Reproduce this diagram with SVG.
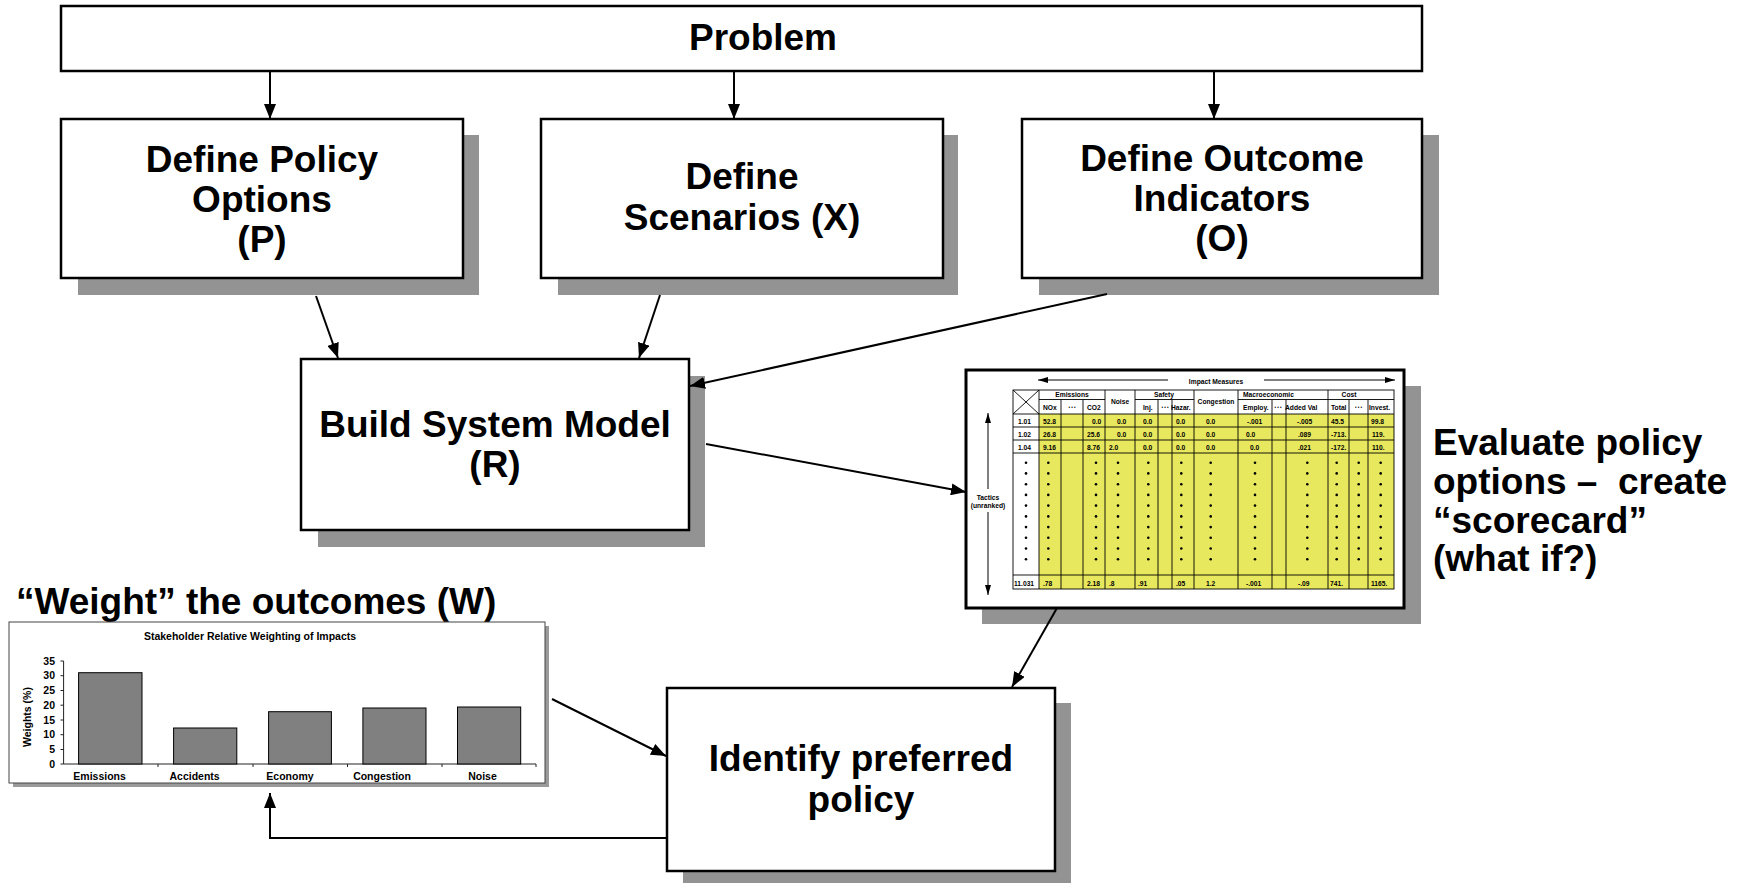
<svg xmlns="http://www.w3.org/2000/svg" xmlns:xlink="http://www.w3.org/1999/xlink" width="1745" height="883" viewBox="0 0 1745 883">
  <style>
    .lbl{font-family:"Liberation Sans",Arial,Helvetica,sans-serif;font-weight:bold;font-size:37px;text-anchor:middle;fill:#000}
    .note{font-family:"Liberation Sans",Arial,Helvetica,sans-serif;font-weight:bold;font-size:37px;fill:#000}
    .box{fill:#fff;stroke:#000;stroke-width:2.5}
    .shadow{fill:#939393}
    .conn{stroke:#000;stroke-width:2;fill:none}
    .thin{stroke:#000;stroke-width:1;fill:none}
    .grid{stroke:#000;stroke-width:0.9;fill:none}
    .tt{font-family:"Liberation Sans",Arial,Helvetica,sans-serif;font-weight:bold;font-size:6.7px;fill:#000}
    .tm{text-anchor:middle}
    .te{text-anchor:end}
    .dots3{font-family:"Liberation Sans",Arial,sans-serif;font-size:4.5px;text-anchor:middle;fill:#000}
    .ct{font-family:"Liberation Sans",Arial,Helvetica,sans-serif;font-weight:bold;font-size:10.5px;fill:#000}
    .bar{fill:#808080;stroke:#000;stroke-width:1}
  </style>
  <defs>
    <marker id="arrow" markerUnits="userSpaceOnUse" markerWidth="15" markerHeight="12" refX="15" refY="6" orient="auto">
      <path d="M0,0 L15,6 L0,12 z" fill="#000"/>
    </marker>
    <marker id="arrowSm" markerUnits="userSpaceOnUse" markerWidth="10" markerHeight="6" refX="10" refY="3" orient="auto">
      <path d="M0,0 L10,3 L0,6 z" fill="#000"/>
    </marker>
    <!-- a column of ten bullets used in the open rows of the scorecard -->
    <g id="dotcol" fill="#000">
      <circle cx="0" cy="462.7" r="1.3"/>
      <circle cx="0" cy="473.4" r="1.3"/>
      <circle cx="0" cy="484.2" r="1.3"/>
      <circle cx="0" cy="494.9" r="1.3"/>
      <circle cx="0" cy="505.6" r="1.3"/>
      <circle cx="0" cy="516.4" r="1.3"/>
      <circle cx="0" cy="527.1" r="1.3"/>
      <circle cx="0" cy="537.8" r="1.3"/>
      <circle cx="0" cy="548.5" r="1.3"/>
      <circle cx="0" cy="559.3" r="1.3"/>
    </g>
  </defs>

  <rect width="1745" height="883" fill="#fff"/>

  <!-- Problem -->
  <g id="problem">
    <rect class="box" x="61" y="6" width="1361" height="65"/>
    <text class="lbl" x="763" y="50">Problem</text>
  </g>

  <!-- Define Policy Options -->
  <g id="policy">
    <rect class="shadow" x="78" y="135" width="401" height="160"/>
    <rect class="box" x="61" y="119" width="402" height="159"/>
    <text class="lbl" x="262" y="172">Define Policy</text>
    <text class="lbl" x="262" y="212">Options</text>
    <text class="lbl" x="262" y="252">(P)</text>
  </g>

  <!-- Define Scenarios -->
  <g id="scenarios">
    <rect class="shadow" x="558" y="135" width="400" height="160"/>
    <rect class="box" x="541" y="119" width="402" height="159"/>
    <text class="lbl" x="742" y="189">Define</text>
    <text class="lbl" x="742" y="230">Scenarios (X)</text>
  </g>

  <!-- Define Outcome Indicators -->
  <g id="outcome">
    <rect class="shadow" x="1039" y="135" width="400" height="160"/>
    <rect class="box" x="1022" y="119" width="400" height="159"/>
    <text class="lbl" x="1222" y="171">Define Outcome</text>
    <text class="lbl" x="1222" y="211">Indicators</text>
    <text class="lbl" x="1222" y="251">(O)</text>
  </g>

  <!-- Build System Model -->
  <g id="model">
    <rect class="shadow" x="318" y="376" width="387" height="171"/>
    <rect class="box" x="301" y="359" width="388" height="171"/>
    <text class="lbl" x="495" y="437">Build System Model</text>
    <text class="lbl" x="495" y="477">(R)</text>
  </g>

  <!-- Scorecard table -->
  <g id="scorecard">
    <rect class="shadow" x="982" y="386" width="439" height="238"/>
    <rect x="966" y="370" width="438" height="238" fill="#fff" stroke="#000" stroke-width="3"/>

    <!-- impact measures span -->
    <line class="thin" x1="1168" y1="380" x2="1038" y2="380" marker-end="url(#arrowSm)"/>
    <line class="thin" x1="1264" y1="380" x2="1395" y2="380" marker-end="url(#arrowSm)"/>
    <text class="tt tm" x="1216" y="383.5" font-size="9">Impact Measures</text>

    <!-- tactics span -->
    <line class="thin" x1="988" y1="489" x2="988" y2="413" marker-end="url(#arrowSm)"/>
    <line class="thin" x1="988" y1="512" x2="988" y2="595" marker-end="url(#arrowSm)"/>
    <text class="tt tm" x="988" y="500" font-size="8.5">Tactics</text>
    <text class="tt tm" x="988" y="507.5" font-size="5.5">(unranked)</text>

    <!-- cell fill -->
    <rect x="1039" y="414" width="355" height="175" fill="#E8E85E"/>

    <!-- grid -->
    <rect class="grid" x="1013" y="390" width="381" height="199"/>
    <path class="grid" d="M1013,414H1394 M1013,427H1394 M1013,440H1394 M1013,453H1394 M1013,575H1394
      M1039,399.5H1105 M1135,399.5H1194 M1238,399.5H1328 M1328,399.5H1394
      M1039,390V589 M1105,390V589 M1135,390V589 M1194,390V589 M1238,390V589 M1328,390V589
      M1061,399.5V589 M1083,399.5V589 M1158,399.5V589 M1172,399.5V589 M1272,399.5V589 M1286,399.5V589 M1349,399.5V589 M1368,399.5V589
      M1013,390L1039,414 M1039,390L1013,414"/>

    <!-- header -->
    <text class="tt tm" x="1072" y="396.5">Emissions</text>
    <text class="tt" x="1043" y="410">NOx</text>
    <text class="dots3" x="1072" y="409">• • •</text>
    <text class="tt" x="1087" y="410">CO2</text>
    <text class="tt tm" x="1120" y="404">Noise</text>
    <text class="tt tm" x="1164" y="396.5">Safety</text>
    <text class="tt" x="1143" y="410">Inj.</text>
    <text class="dots3" x="1165" y="409">• • •</text>
    <text class="tt" x="1171" y="410">Hazar.</text>
    <text class="tt tm" x="1216" y="404">Congestion</text>
    <text class="tt" x="1243" y="396.5">Macroeconomic</text>
    <text class="tt" x="1243" y="410">Employ.</text>
    <text class="dots3" x="1278" y="409">• • •</text>
    <text class="tt" x="1285" y="410">Added Val</text>
    <text class="tt tm" x="1349" y="396.5">Cost</text>
    <text class="tt" x="1331" y="410">Total</text>
    <text class="dots3" x="1358.5" y="409">• • •</text>
    <text class="tt" x="1369" y="410">Invest.</text>

    <!-- row 1.01 -->
    <text class="tt" x="1018" y="423.5">1.01</text>
    <text class="tt" x="1043" y="423.5">52.8</text>
    <text class="tt" x="1092" y="423.5">0.0</text>
    <text class="tt" x="1117" y="423.5">0.0</text>
    <text class="tt" x="1143" y="423.5">0.0</text>
    <text class="tt" x="1176" y="423.5">0.0</text>
    <text class="tt" x="1206" y="423.5">0.0</text>
    <text class="tt" x="1247" y="423.5">-.001</text>
    <text class="tt" x="1297" y="423.5">-.005</text>
    <text class="tt" x="1331" y="423.5">45.5</text>
    <text class="tt" x="1371" y="423.5">99.8</text>

    <!-- row 1.02 -->
    <text class="tt" x="1018" y="436.5">1.02</text>
    <text class="tt" x="1043" y="436.5">26.8</text>
    <text class="tt" x="1087" y="436.5">25.6</text>
    <text class="tt" x="1117" y="436.5">0.0</text>
    <text class="tt" x="1143" y="436.5">0.0</text>
    <text class="tt" x="1176" y="436.5">0.0</text>
    <text class="tt" x="1206" y="436.5">0.0</text>
    <text class="tt" x="1246" y="436.5">0.0</text>
    <text class="tt" x="1298" y="436.5">.089</text>
    <text class="tt" x="1331" y="436.5">-713.</text>
    <text class="tt" x="1372" y="436.5">119.</text>

    <!-- row 1.04 -->
    <text class="tt" x="1018" y="449.5">1.04</text>
    <text class="tt" x="1043" y="449.5">9.16</text>
    <text class="tt" x="1087" y="449.5">8.76</text>
    <text class="tt" x="1109" y="449.5">2.0</text>
    <text class="tt" x="1143" y="449.5">0.0</text>
    <text class="tt" x="1176" y="449.5">0.0</text>
    <text class="tt" x="1206" y="449.5">0.0</text>
    <text class="tt" x="1250" y="449.5">0.0</text>
    <text class="tt" x="1298" y="449.5">.021</text>
    <text class="tt" x="1331" y="449.5">-172.</text>
    <text class="tt" x="1372" y="449.5">110.</text>

    <!-- elided rows -->
    <use xlink:href="#dotcol" href="#dotcol" x="1026"/>
    <use xlink:href="#dotcol" href="#dotcol" x="1048.3"/>
    <use xlink:href="#dotcol" href="#dotcol" x="1096"/>
    <use xlink:href="#dotcol" href="#dotcol" x="1118"/>
    <use xlink:href="#dotcol" href="#dotcol" x="1148.3"/>
    <use xlink:href="#dotcol" href="#dotcol" x="1181.3"/>
    <use xlink:href="#dotcol" href="#dotcol" x="1210.7"/>
    <use xlink:href="#dotcol" href="#dotcol" x="1255"/>
    <use xlink:href="#dotcol" href="#dotcol" x="1307.3"/>
    <use xlink:href="#dotcol" href="#dotcol" x="1336.7"/>
    <use xlink:href="#dotcol" href="#dotcol" x="1358.7"/>
    <use xlink:href="#dotcol" href="#dotcol" x="1380.7"/>

    <!-- row 11.031 -->
    <text class="tt" x="1014" y="585.5">11.031</text>
    <text class="tt" x="1043" y="585.5">.78</text>
    <text class="tt" x="1087" y="585.5">2.18</text>
    <text class="tt" x="1109" y="585.5">.8</text>
    <text class="tt" x="1138" y="585.5">.91</text>
    <text class="tt" x="1176" y="585.5">.05</text>
    <text class="tt" x="1206" y="585.5">1.2</text>
    <text class="tt" x="1246" y="585.5">-.001</text>
    <text class="tt" x="1298" y="585.5">-.09</text>
    <text class="tt" x="1330" y="585.5">741.</text>
    <text class="tt" x="1371" y="585.5">1165.</text>
  </g>

  <!-- Evaluate note -->
  <g id="evaluate">
    <text class="note" x="1433" y="455">Evaluate policy</text>
    <text class="note" x="1433" y="494" style="white-space:pre">options –  create</text>
    <text class="note" x="1433" y="533">“scorecard”</text>
    <text class="note" x="1433" y="571">(what if?)</text>
  </g>

  <!-- Weights chart -->
  <g id="weights">
    <text class="note" x="16" y="614" font-size="38">“Weight” the outcomes (W)</text>
    <rect x="13" y="626" width="536" height="161" fill="#9a9a9a"/>
    <rect x="9" y="622" width="536" height="161" fill="#fff" stroke="#444" stroke-width="1"/>
    <text class="ct" x="250" y="640" text-anchor="middle">Stakeholder Relative Weighting of Impacts</text>

    <!-- axes -->
    <path d="M63.6,661V764H536 M60.5,661H63.6 M60.5,675.7H63.6 M60.5,690.5H63.6 M60.5,705.2H63.6 M60.5,720H63.6 M60.5,734.7H63.6 M60.5,749.5H63.6 M60.5,764H63.6
      M158,764V767 M253,764V767 M347.5,764V767 M442,764V767 M536,764V767" stroke="#222" stroke-width="1" fill="none"/>
    <g class="ct" font-size="10" text-anchor="end">
      <text x="55" y="664.5">35</text>
      <text x="55" y="679.2">30</text>
      <text x="55" y="694">25</text>
      <text x="55" y="708.7">20</text>
      <text x="55" y="723.5">15</text>
      <text x="55" y="738.2">10</text>
      <text x="55" y="753">5</text>
      <text x="55" y="767.5">0</text>
    </g>
    <text class="ct" font-size="10" text-anchor="middle" transform="translate(30.5,717) rotate(-90)">Weights (%)</text>

    <!-- bars -->
    <rect class="bar" x="78.6" y="672.7" width="63.4" height="91.3"/>
    <rect class="bar" x="173.6" y="728" width="63.2" height="36"/>
    <rect class="bar" x="268.6" y="711.7" width="62.8" height="52.3"/>
    <rect class="bar" x="362.9" y="708" width="63.1" height="56"/>
    <rect class="bar" x="457.5" y="707" width="63.2" height="57"/>

    <g class="ct" text-anchor="middle">
      <text x="99.6" y="779.5">Emissions</text>
      <text x="194.6" y="779.5">Accidents</text>
      <text x="290" y="779.5">Economy</text>
      <text x="382" y="779.5">Congestion</text>
      <text x="482.5" y="779.5">Noise</text>
    </g>
  </g>

  <!-- Identify preferred policy -->
  <g id="identify">
    <rect class="shadow" x="683" y="703" width="388" height="182"/>
    <rect class="box" x="667" y="688" width="388" height="183"/>
    <text class="lbl" x="861" y="771">Identify preferred</text>
    <text class="lbl" x="861" y="812">policy</text>
  </g>

  <!-- Connectors -->
  <g id="connectors">
    <line class="conn" x1="270" y1="71" x2="270" y2="119" marker-end="url(#arrow)"/>
    <line class="conn" x1="734" y1="71" x2="734" y2="119" marker-end="url(#arrow)"/>
    <line class="conn" x1="1214" y1="71" x2="1214" y2="119" marker-end="url(#arrow)"/>
    <line class="conn" x1="316" y1="296" x2="338" y2="358" marker-end="url(#arrow)"/>
    <line class="conn" x1="660" y1="295" x2="639" y2="358" marker-end="url(#arrow)"/>
    <line class="conn" x1="1107" y1="294" x2="690" y2="386" marker-end="url(#arrow)"/>
    <line class="conn" x1="706" y1="444" x2="966" y2="492" marker-end="url(#arrow)"/>
    <line class="conn" x1="1057" y1="608" x2="1012" y2="687" marker-end="url(#arrow)"/>
    <line class="conn" x1="552" y1="699" x2="666" y2="756" marker-end="url(#arrow)"/>
    <path class="conn" d="M667,838 H270 V793" marker-end="url(#arrow)"/>
  </g>
</svg>
